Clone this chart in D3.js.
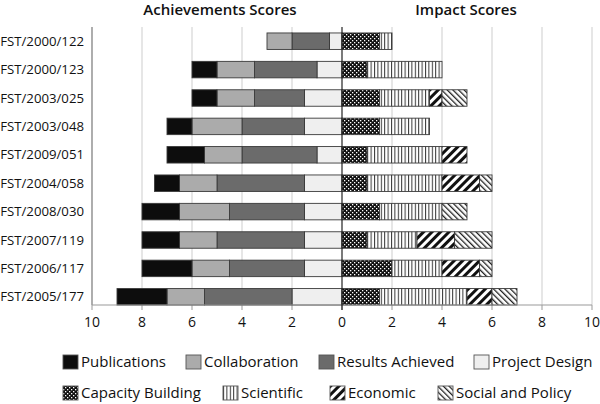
<!DOCTYPE html>
<html>
<head>
<meta charset="utf-8">
<script src="https://cdn.jsdelivr.net/npm/d3@7"></script>
<style>
  body { margin: 0; background: #fff; }
  svg { display: block; font-family: "Open Sans", sans-serif; }
</style>
</head>
<body>
<svg id="chart" width="600" height="404"></svg>
<script>
// projects, top to bottom
const projects = ["FST/2000/122", "FST/2000/123", "FST/2003/025", "FST/2003/048", "FST/2009/051",
  "FST/2004/058", "FST/2008/030", "FST/2007/119", "FST/2006/117", "FST/2005/177"]

// achievements (drawn to the left)
const publications = [0, 1, 1, 1, 1.5, 1, 1.5, 1.5, 2, 2]
const collaboration = [1, 1.5, 1.5, 2, 1.5, 1.5, 2, 1.5, 1.5, 1.5]
const resultsAchieved = [1.5, 2.5, 2, 2.5, 3, 3.5, 3, 3.5, 3, 3.5]
const projectDesign = [0.5, 1, 1.5, 1.5, 1, 1.5, 1.5, 1.5, 1.5, 2]

// impact (drawn to the right)
const capacityBuilding = [1.5, 1, 1.5, 1.5, 1, 1, 1.5, 1, 2, 1.5]
const scientific = [0.5, 3, 2, 2, 3, 3, 2.5, 2, 2, 3.5]
const economic = [0, 0, 0.5, 0, 1, 1.5, 0, 1.5, 1.5, 1]
const socialPolicy = [0, 0, 1, 0, 0, 0.5, 1, 1.5, 0.5, 1]

const xTicks = [-10, -8, -6, -4, -2, 0, 2, 4, 6, 8, 10]

const leftKeys = ["Project Design", "Results Achieved", "Collaboration", "Publications"]
const rightKeys = ["Capacity Building", "Scientific", "Economic", "Social and Policy"]

const table = projects.map((p, i) => ({
  project: p,
  "Publications": publications[i],
  "Collaboration": collaboration[i],
  "Results Achieved": resultsAchieved[i],
  "Project Design": projectDesign[i],
  "Capacity Building": capacityBuilding[i],
  "Scientific": scientific[i],
  "Economic": economic[i],
  "Social and Policy": socialPolicy[i],
}))

const svg = d3.select("#chart")
const plotTop = 27
const plotBottom = 305

const x = d3.scaleLinear().domain([-10, 10]).range([92, 592])
const y = d3.scaleBand().domain(projects).range([27, 311]).paddingInner(0.42).paddingOuter(0.21)

// patterns for the impact series
const defs = svg.append("defs")
const dots = defs.append("pattern").attr("id", "p-capacity")
  .attr("patternUnits", "userSpaceOnUse").attr("width", 4).attr("height", 4)
dots.append("rect").attr("width", 4).attr("height", 4).attr("fill", "#111")
dots.append("rect").attr("x", 0).attr("y", 0).attr("width", 1.3).attr("height", 1.3).attr("fill", "#fff")
dots.append("rect").attr("x", 2).attr("y", 2).attr("width", 1.3).attr("height", 1.3).attr("fill", "#fff")

const vert = defs.append("pattern").attr("id", "p-scientific")
  .attr("patternUnits", "userSpaceOnUse").attr("width", 3.4).attr("height", 4)
vert.append("rect").attr("width", 3.4).attr("height", 4).attr("fill", "#fff")
vert.append("rect").attr("x", 0).attr("width", 1).attr("height", 4).attr("fill", "#333")

const econ = defs.append("pattern").attr("id", "p-economic")
  .attr("patternUnits", "userSpaceOnUse").attr("width", 6).attr("height", 6)
  .attr("patternTransform", "rotate(45)")
econ.append("rect").attr("width", 6).attr("height", 6).attr("fill", "#fff")
econ.append("rect").attr("width", 3).attr("height", 6).attr("fill", "#111")

const social = defs.append("pattern").attr("id", "p-social")
  .attr("patternUnits", "userSpaceOnUse").attr("width", 4).attr("height", 4)
  .attr("patternTransform", "rotate(-45)")
social.append("rect").attr("width", 4).attr("height", 4).attr("fill", "#fff")
social.append("rect").attr("width", 1.3).attr("height", 4).attr("fill", "#222")

const fills = {
  "Publications": "#0d0d0d",
  "Collaboration": "#ababab",
  "Results Achieved": "#6b6b6b",
  "Project Design": "#efefef",
  "Capacity Building": "url(#p-capacity)",
  "Scientific": "url(#p-scientific)",
  "Economic": "url(#p-economic)",
  "Social and Policy": "url(#p-social)",
}

// gridlines
svg.append("g").selectAll("line").data(xTicks.filter((t) => t !== 0 && t !== -10)).join("line")
  .attr("x1", (d) => x(d)).attr("x2", (d) => x(d))
  .attr("y1", plotTop).attr("y2", plotBottom)
  .attr("stroke", "#d9d9d9").attr("stroke-width", 1.3)

// bottom ticks
svg.append("g").selectAll("line").data(xTicks).join("line")
  .attr("x1", (d) => x(d)).attr("x2", (d) => x(d))
  .attr("y1", plotBottom).attr("y2", plotBottom + 5)
  .attr("stroke", "#999")

// stacked bars
const leftSeries = d3.stack().keys(leftKeys)(table)
const rightSeries = d3.stack().keys(rightKeys)(table)

function drawSeries(series, sign) {
  svg.append("g").selectAll("g").data(series).join("g")
    .attr("fill", (s) => fills[s.key])
    .selectAll("rect")
    .data((s) => s.filter((d) => d[1] - d[0] > 0))
    .join("rect")
    .attr("x", (d) => Math.min(x(sign * d[0]), x(sign * d[1])))
    .attr("width", (d) => Math.abs(x(d[1]) - x(d[0])))
    .attr("y", (d) => y(d.data.project))
    .attr("height", y.bandwidth())
    .attr("stroke", "#3a3a3a")
    .attr("stroke-width", 0.9)
}
drawSeries(leftSeries, -1)
drawSeries(rightSeries, 1)

// axis lines
svg.append("line").attr("x1", x(-10)).attr("x2", x(-10)).attr("y1", plotTop).attr("y2", plotBottom)
  .attr("stroke", "#777").attr("stroke-width", 1.2)
svg.append("line").attr("x1", x(-10)).attr("x2", x(10)).attr("y1", plotBottom).attr("y2", plotBottom)
  .attr("stroke", "#999").attr("stroke-width", 1.2)
svg.append("line").attr("x1", x(0)).attr("x2", x(0)).attr("y1", plotTop).attr("y2", plotBottom + 5)
  .attr("stroke", "#222").attr("stroke-width", 1.2)

// tick labels
svg.append("g").selectAll("text").data(xTicks).join("text")
  .attr("x", (d) => x(d)).attr("y", 327)
  .attr("text-anchor", "middle")
  .attr("font-size", 14)
  .attr("fill", "#111")
  .text((d) => Math.abs(d))

// project labels
svg.append("g").selectAll("text").data(projects).join("text")
  .attr("x", 84)
  .attr("y", (d) => y(d) + y.bandwidth() / 2)
  .attr("dy", "0.35em")
  .attr("text-anchor", "end")
  .attr("font-size", 13.2)
  .attr("fill", "#111")
  .text((d) => d)

// titles
svg.append("text").attr("x", 220).attr("y", 15).attr("text-anchor", "middle")
  .attr("font-size", 15).attr("font-weight", 600).attr("fill", "#111").text("Achievements Scores")
svg.append("text").attr("x", 466).attr("y", 15).attr("text-anchor", "middle")
  .attr("font-size", 15).attr("font-weight", 600).attr("fill", "#111").text("Impact Scores")

// legend
const legendItems = [
  { key: "Publications", x: 63, row: 0 },
  { key: "Collaboration", x: 186, row: 0 },
  { key: "Results Achieved", x: 319, row: 0 },
  { key: "Project Design", x: 474, row: 0 },
  { key: "Capacity Building", x: 63, row: 1 },
  { key: "Scientific", x: 223, row: 1 },
  { key: "Economic", x: 330, row: 1 },
  { key: "Social and Policy", x: 438, row: 1 },
]
const legend = svg.append("g").selectAll("g").data(legendItems).join("g")
  .attr("transform", (d) => `translate(${d.x}, ${362 + d.row * 31})`)
legend.append("rect")
  .attr("x", 0).attr("y", -7).attr("width", 15).attr("height", 14)
  .attr("fill", (d) => fills[d.key])
  .attr("stroke", "#555").attr("stroke-width", 0.9)
legend.append("text")
  .attr("x", 18).attr("dy", "0.35em")
  .attr("font-size", 15).attr("fill", "#111")
  .text((d) => d.key)
</script>
</body>
</html>
